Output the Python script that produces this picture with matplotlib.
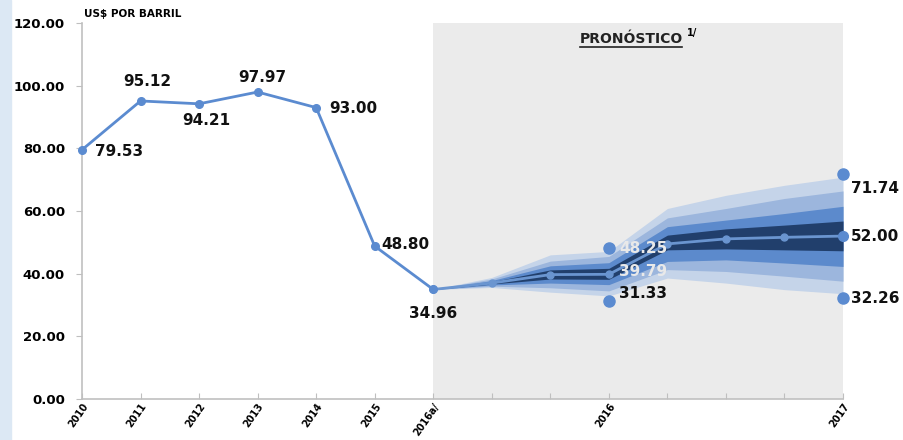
import matplotlib.pyplot as plt
from matplotlib.patches import Rectangle

# x slots: 2010..2015, 2016a/, then forecast steps up to 2017
tick_labels = ['2010', '2011', '2012', '2013', '2014', '2015', '2016a/',
               '', '', '2016', '', '', '', '2017']

hist_values = [79.53, 95.12, 94.21, 97.97, 93.00, 48.80, 34.96]

# forecast (starts at the last observed point)
fc_center = [34.96, 37.0, 39.7, 39.79, 49.5, 51.1, 51.6, 52.00]
fan_outer_lo = [34.96, 35.6, 34.1, 32.9, 38.6, 37.0, 34.9, 33.6]
fan_outer_hi = [34.96, 38.8, 46.0, 47.1, 60.8, 65.0, 68.2, 70.8]
fan_mid2_lo = [34.96, 36.0, 35.5, 34.5, 41.3, 40.7, 39.2, 37.6]
fan_mid2_hi = [34.96, 38.3, 44.0, 45.5, 57.8, 60.8, 64.0, 66.4]
fan_mid1_lo = [34.96, 36.4, 37.0, 36.5, 43.9, 44.4, 43.4, 42.3]
fan_mid1_hi = [34.96, 37.8, 42.5, 43.5, 55.0, 57.1, 59.2, 61.5]
fan_inner_lo = [34.96, 36.7, 38.3, 38.2, 47.6, 47.9, 47.6, 47.3]
fan_inner_hi = [34.96, 37.4, 41.2, 41.7, 52.3, 54.3, 55.5, 56.8]

# highlighted forecast points: (slot index, value)
fc_marks = [(9, 48.25), (9, 31.33), (13, 71.74), (13, 32.26)]

hist_color = '#5b8bd0'
fan_colors = ['#c5d4e9', '#9cb6dd', '#5c8acc', '#213f6c']

fig = plt.figure(figsize=(9.04, 4.40), dpi=100)
fig.patches.append(Rectangle((0, 0), 11 / 904, 1, transform=fig.transFigure,
                             color='#dce8f4', zorder=0))
ax = fig.add_axes([82 / 904, 41 / 440, 761 / 904, 376 / 440])

n_hist = len(hist_values)
x_hist = list(range(n_hist))
x_fc = list(range(n_hist - 1, n_hist - 1 + len(fc_center)))

ax.axvspan(x_fc[0], x_fc[-1], color='#ebebeb', zorder=0, lw=0)

bands = [(fan_outer_lo, fan_outer_hi), (fan_mid2_lo, fan_mid2_hi),
         (fan_mid1_lo, fan_mid1_hi), (fan_inner_lo, fan_inner_hi)]
for (lo, hi), c in zip(bands, fan_colors):
    ax.fill_between(x_fc, lo, hi, color=c, lw=0, zorder=2)

ax.plot(x_fc, fc_center, color='#6a95d0', lw=2, marker='o', ms=5, zorder=3)
ax.plot(x_fc[-1], fc_center[-1], 'o', color=hist_color, ms=7, zorder=4, clip_on=False)
ax.plot(x_hist, hist_values, color=hist_color, lw=2, marker='o', ms=5.5, zorder=4,
        clip_on=False)
for xi, v in fc_marks:
    ax.plot(xi, v, 'o', color=hist_color, ms=8, zorder=4, clip_on=False)

FS = 11
lab_font = dict(fontsize=FS, fontweight='bold', color='#111111')

# historical labels with offsets in pixels
hist_offsets = [(13, -2, 'left'), (7, 19, 'center'), (7, -17, 'center'),
                (5, 15, 'center'), (13, -1, 'left'), (7, 2, 'left'),
                (0, -24, 'center')]
for xi, v, (dx, dy, ha) in zip(x_hist, hist_values, hist_offsets):
    ax.annotate('%.2f' % v, (xi, v), xytext=(dx, dy), textcoords='offset pixels',
                ha=ha, va='center', annotation_clip=False, **lab_font)

ax.annotate('%.2f' % fc_marks[0][1], (9, fc_center[3]), xytext=(10, 26),
            textcoords='offset pixels', ha='left', va='center',
            fontsize=FS, fontweight='bold', color='#e9e9e9', zorder=5)
ax.annotate('%.2f' % fc_center[3], (9, fc_center[3]), xytext=(10, 3),
            textcoords='offset pixels', ha='left', va='center',
            fontsize=FS, fontweight='bold', color='#e9e9e9', zorder=5)
ax.annotate('%.2f' % fc_marks[1][1], (9, fc_marks[1][1]), xytext=(10, 7),
            textcoords='offset pixels', ha='left', va='center', **lab_font)
ax.annotate('%.2f' % fc_marks[2][1], (13, fc_marks[2][1]), xytext=(8, -14),
            textcoords='offset pixels', ha='left', va='center',
            annotation_clip=False, **lab_font)
ax.annotate('%.2f' % fc_center[-1], (13, fc_center[-1]), xytext=(8, 0),
            textcoords='offset pixels', ha='left', va='center',
            annotation_clip=False, **lab_font)
ax.annotate('%.2f' % fc_marks[3][1], (13, fc_marks[3][1]), xytext=(8, -1),
            textcoords='offset pixels', ha='left', va='center',
            annotation_clip=False, **lab_font)

ax.set_xlim(0, len(tick_labels) - 1)
ax.set_ylim(0, 120)
ax.set_yticks(range(0, 121, 20))
ax.set_yticklabels(['%.2f' % t for t in range(0, 121, 20)],
                   fontsize=9.5, fontweight='bold')
ax.set_xticks(range(len(tick_labels)))
ax.set_xticklabels(tick_labels, rotation=55, ha='right', rotation_mode='anchor',
                   fontsize=7, fontweight='bold')
ax.tick_params(axis='y', length=4.3, color='#bfbfbf', pad=8)
ax.tick_params(axis='x', length=4, color='#bfbfbf', direction='in', pad=2)

for s in ['top', 'right']:
    ax.spines[s].set_visible(False)
for s in ['left', 'bottom']:
    ax.spines[s].set_color('#c0c0c0')
    ax.spines[s].set_linewidth(1.2)
ax.set_facecolor('none')

fig.text(84 / 904, 1 - 14 / 440, 'US$ POR BARRIL', fontsize=7.5,
         fontweight='bold', va='center', ha='left')
ax.text(8.51, 114.8, 'PRONÓSTICO', fontsize=10, fontweight='bold',
        ha='left', va='center', color='#222222')
ax.text(10.33, 116.8, '1/', fontsize=7, fontweight='bold', ha='left', va='center')
ax.plot([8.51, 10.25], [112.5, 112.5], color='#222222', lw=1.2)

fig.savefig('out.png', dpi=100)
